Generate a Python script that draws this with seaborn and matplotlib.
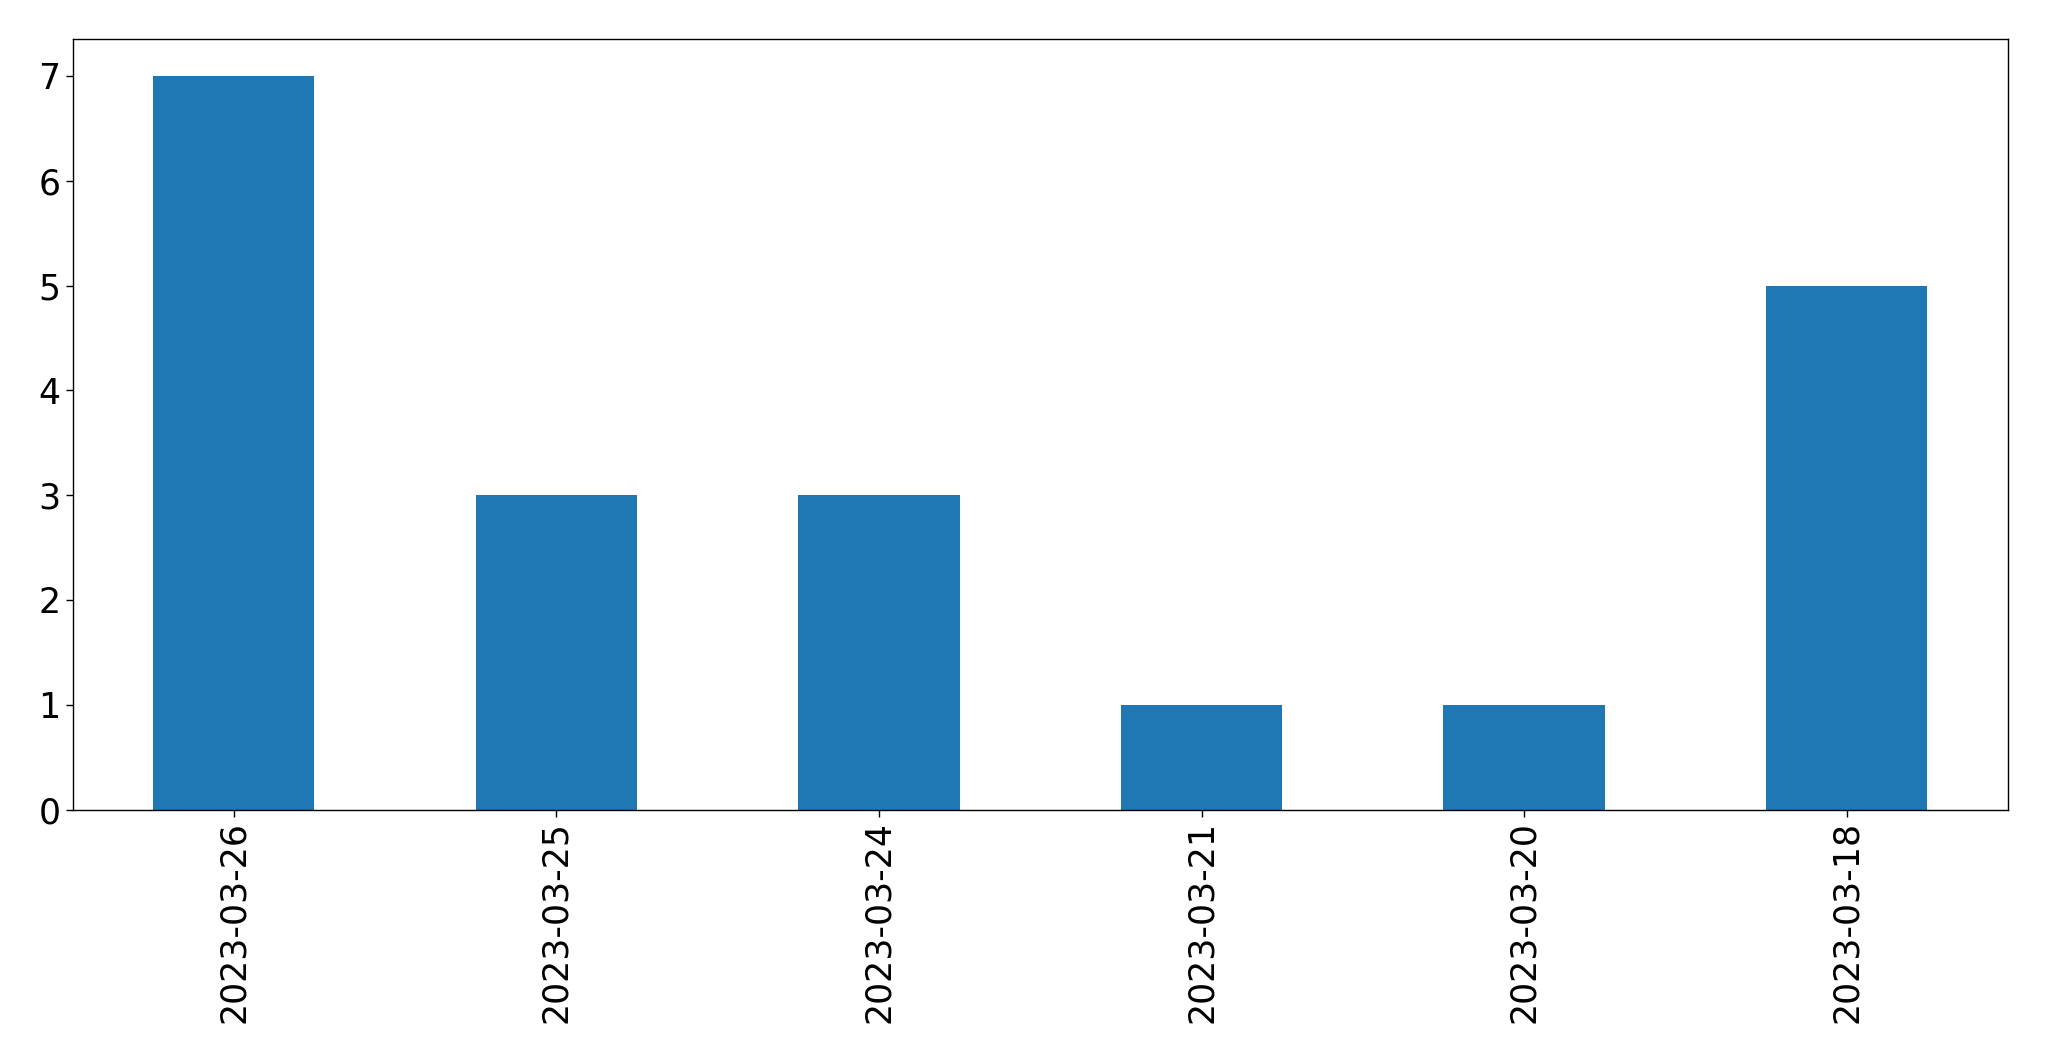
import matplotlib
matplotlib.use("Agg")
import matplotlib.pyplot as plt
import seaborn as sns
import pandas as pd

dates = ["2023-03-26", "2023-03-25", "2023-03-24", "2023-03-21", "2023-03-20", "2023-03-18"]
counts = [7, 3, 3, 1, 1, 5]

sns.set_style("ticks")
plt.rcParams['font.family'] = ['DejaVu Sans']
plt.rcParams['text.color'] = 'black'
plt.rcParams['xtick.color'] = 'black'
plt.rcParams['ytick.color'] = 'black'
plt.rcParams['axes.edgecolor'] = 'black'

df = pd.DataFrame({"date": dates, "count": counts})

fig = plt.figure(figsize=(20.49, 10.61), dpi=100)
ax = fig.add_axes([72.5/2049, 1 - 809.5/1061, (2008 - 72.5)/2049, (809.5 - 39.3)/1061])
sns.barplot(data=df, x="date", y="count", color="#1f77b4", saturation=1, width=0.5,
            linewidth=0, ax=ax)
ax.set_xlim(-0.5, len(dates) - 0.5)
ax.set_ylim(0, 7.35)
ax.set_xlabel("")
ax.set_ylabel("")
ax.tick_params(axis="both", labelsize=25, length=5, width=1, color="black", labelcolor="black")
ax.tick_params(axis="x", rotation=90)
for s in ax.spines.values():
    s.set_visible(True)
    s.set_color("black")
    s.set_linewidth(1)
fig.savefig("out.png", dpi=100)
